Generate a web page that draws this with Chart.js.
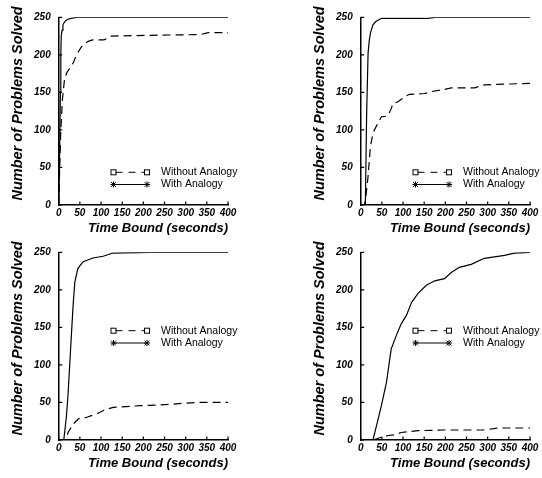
<!DOCTYPE html>
<html><head><meta charset="utf-8">
<script src="https://cdn.jsdelivr.net/npm/chart.js@4.4.1/dist/chart.umd.min.js"></script>
<style>
html,body{margin:0;padding:0;background:#fff;overflow:hidden;width:542px;height:478px;}
canvas{position:absolute;}
</style></head><body>
<canvas id="c1" width="240" height="239" style="left:0px;top:0px"></canvas>
<canvas id="c2" width="240" height="239" style="left:301.6px;top:0px"></canvas>
<canvas id="c3" width="240" height="239" style="left:0px;top:235px"></canvas>
<canvas id="c4" width="240" height="239" style="left:301.6px;top:235px"></canvas>
<script>
// ---- tick labels / text ----
const timeTicks = [0, 50, 100, 150, 200, 250, 300, 350, 400];
const countTicks = [0, 50, 100, 150, 200, 250];
const seriesLabels = ['Without Analogy', 'With Analogy'];
const xTitle = 'Time Bound (seconds)';
const yTitle = 'Number of Problems Solved';

// ---- panel 1 (top-left) ----
const p1WithoutT = [0, 1, 2.4, 4.7, 8.7, 14, 20, 26, 35, 42, 54, 62, 70, 80, 89, 107, 118, 125, 215, 334, 353, 400];
const p1WithoutN = [0, 20, 51, 95, 140, 169, 177, 182, 190, 200, 211, 215, 218, 220, 220, 220, 223, 225, 226, 227, 229.5, 229.5];
const p1WithT = [0, 2, 4, 5, 6, 8, 10, 14, 18, 25, 32, 42, 400];
const p1WithN = [0, 60, 150, 200, 225, 233, 240, 244, 246, 248, 249, 250, 250];

// ---- panel 2 (top-right) ----
const p2WithoutT = [0, 9, 13, 17.4, 23, 29, 35, 41, 49, 58, 65, 72, 76, 88, 104, 115, 151, 167, 198, 214, 269, 292, 339, 400];
const p2WithoutN = [0, 0, 15, 38, 78, 95.5, 103, 109, 117.6, 118, 120, 128, 135, 137.6, 144, 147.4, 148.5, 151, 154, 156, 156, 160, 161, 162];
const p2WithT = [0, 11, 14, 17.4, 20, 23, 26, 29, 35, 41, 49, 159, 175, 400];
const p2WithN = [0, 0, 120, 202, 218, 229, 235, 240, 244, 246, 248.6, 248.6, 250, 250];

// ---- panel 3 (bottom-left) ----
const p3WithoutT = [0, 18, 22, 34, 46, 52, 65, 89, 113, 129, 192, 239, 294, 334, 400];
const p3WithoutN = [0, 0, 10, 21, 28, 29.5, 30, 34.6, 41, 43.5, 45.7, 46.6, 48.8, 50.2, 50.2];
const p3WithT = [0, 12, 18, 22, 26, 30, 34, 38, 45, 50, 58, 70, 81, 105, 128, 215, 400];
const p3WithN = [0, 0, 30, 60, 100, 140, 179, 210, 228, 232, 237.5, 240, 242.4, 244.7, 249, 250, 250];

// ---- panel 4 (bottom-right) ----
const p4WithoutT = [0, 30, 45, 65, 80, 96, 135, 198, 292, 324, 400];
const p4WithoutN = [0, 0, 3, 6, 7, 10, 12.4, 13.3, 13.3, 16, 16];
const p4WithT = [0, 29, 40, 49, 61, 72, 84, 96, 108, 120, 135, 155, 175, 198, 214, 233, 261, 292, 340, 363, 400];
const p4WithN = [0, 0, 25, 46, 77, 121, 139, 155, 166, 183, 195, 206, 212, 215, 223, 230, 234, 242, 246, 249, 250];

const FONT = '"Liberation Sans", Arial, Helvetica, sans-serif';

function pts(t, n) { return t.map((v, i) => ({ x: v, y: n[i] })); }

const decorPlugin = {
  id: 'decor',
  afterDraw(chart) {
    const ctx = chart.ctx;
    const xs = chart.scales.x, ys = chart.scales.y;
    const area = chart.chartArea;
    const opts = chart.options.plugins.decor;
    ctx.save();
    // inward tick marks
    ctx.strokeStyle = '#000';
    ctx.lineWidth = 1.2;
    ctx.beginPath();
    timeTicks.forEach(v => {
      const px = xs.getPixelForValue(v);
      ctx.moveTo(px, area.bottom);
      ctx.lineTo(px, area.bottom - 3.5);
    });
    countTicks.forEach(v => {
      const py = ys.getPixelForValue(v);
      ctx.moveTo(area.left, py);
      ctx.lineTo(area.left + 3.5, py);
    });
    ctx.stroke();

    // y title
    ctx.save();
    ctx.translate(18.3, 103.5);
    ctx.rotate(-Math.PI / 2);
    ctx.fillStyle = '#000';
    ctx.font = 'italic bold 14.5px ' + FONT;
    ctx.textAlign = 'center';
    ctx.textBaseline = 'middle';
    ctx.fillText(yTitle, 0, 0);
    ctx.restore();

    // legend
    const x1 = opts.x1, x2 = opts.x2;
    const rows = [opts.y1, opts.y2];
    ctx.lineWidth = 1;
    ctx.strokeStyle = '#000';
    ctx.fillStyle = '#000';
    ctx.font = '10.5px ' + FONT;
    ctx.textAlign = 'left';
    ctx.textBaseline = 'middle';
    // row 1: dashed with squares
    let y = rows[0];
    ctx.setLineDash([7, 6]);
    ctx.beginPath(); ctx.moveTo(x1 + 2, y); ctx.lineTo(x2 - 2, y); ctx.stroke();
    ctx.setLineDash([]);
    ctx.strokeRect(x1 - 2.5, y - 2.5, 5, 5);
    ctx.strokeRect(x2 - 2.5, y - 2.5, 5, 5);
    ctx.fillText(seriesLabels[0], opts.tx, y);
    // row 2: solid with stars
    y = rows[1];
    ctx.beginPath(); ctx.moveTo(x1, y); ctx.lineTo(x2, y); ctx.stroke();
    [x1, x2].forEach(cx => {
      const r = 3;
      ctx.beginPath();
      ctx.moveTo(cx, y - r); ctx.lineTo(cx, y + r);
      ctx.moveTo(cx - r, y); ctx.lineTo(cx + r, y);
      ctx.moveTo(cx - r * 0.8, y - r * 0.8); ctx.lineTo(cx + r * 0.8, y + r * 0.8);
      ctx.moveTo(cx - r * 0.8, y + r * 0.8); ctx.lineTo(cx + r * 0.8, y - r * 0.8);
      ctx.stroke();
    });
    ctx.fillText(seriesLabels[1], opts.tx, y);
    ctx.restore();
  }
};

function makeChart(id, wT, wN, aT, aN, legendY1, legendY2) {
  return new Chart(document.getElementById(id), {
    type: 'line',
    data: {
      datasets: [
        { label: seriesLabels[0], data: pts(wT, wN), borderColor: '#000', borderWidth: 1.2, borderDash: [8, 5], pointRadius: 0, tension: 0, fill: false },
        { label: seriesLabels[1], data: pts(aT, aN), borderColor: '#000', borderWidth: 1.2, pointRadius: 0, tension: 0, fill: false }
      ]
    },
    options: {
      responsive: false,
      animation: false,
      events: [],
      devicePixelRatio: 1,
      layout: { padding: { left: 0, right: 12, top: 17.3, bottom: 0 } },
      plugins: {
        legend: { display: false },
        tooltip: { enabled: false },
        decor: { x1: 113.5, x2: 147, tx: 161, y1: legendY1, y2: legendY2 }
      },
      scales: {
        x: {
          type: 'linear', min: 0, max: 400,
          afterFit(s) { s.height = 34; },
          afterBuildTicks(s) { s.ticks = timeTicks.map(v => ({ value: v })); },
          ticks: { color: '#000', padding: 2, maxRotation: 0, autoSkip: false,
                   font: { family: FONT, size: 10, style: 'italic', weight: 'bold' } },
          grid: { display: false, drawTicks: false },
          border: { display: true, color: '#000', width: 1.5 },
          title: { display: true, text: xTitle, align: 'end', color: '#000',
                   padding: { top: 0, bottom: 2.4 },
                   font: { family: FONT, size: 13, style: 'italic', weight: 'bold' } }
        },
        y: {
          type: 'linear', min: 0, max: 250,
          afterFit(s) { s.width = 58.7; },
          afterBuildTicks(s) { s.ticks = countTicks.map(v => ({ value: v })); },
          ticks: { color: '#000', padding: 8,
                   font: { family: FONT, size: 10, style: 'italic', weight: 'bold' } },
          grid: { display: false, drawTicks: false },
          border: { display: true, color: '#000', width: 1.5 },
          title: { display: false }
        }
      }
    },
    plugins: [decorPlugin]
  });
}

makeChart('c1', p1WithoutT, p1WithoutN, p1WithT, p1WithN, 172.3, 184.5);
makeChart('c2', p2WithoutT, p2WithoutN, p2WithT, p2WithN, 172.3, 184.5);
makeChart('c3', p3WithoutT, p3WithoutN, p3WithT, p3WithN, 95.7, 108);
makeChart('c4', p4WithoutT, p4WithoutN, p4WithT, p4WithN, 95.7, 108);
</script>
</body></html>
